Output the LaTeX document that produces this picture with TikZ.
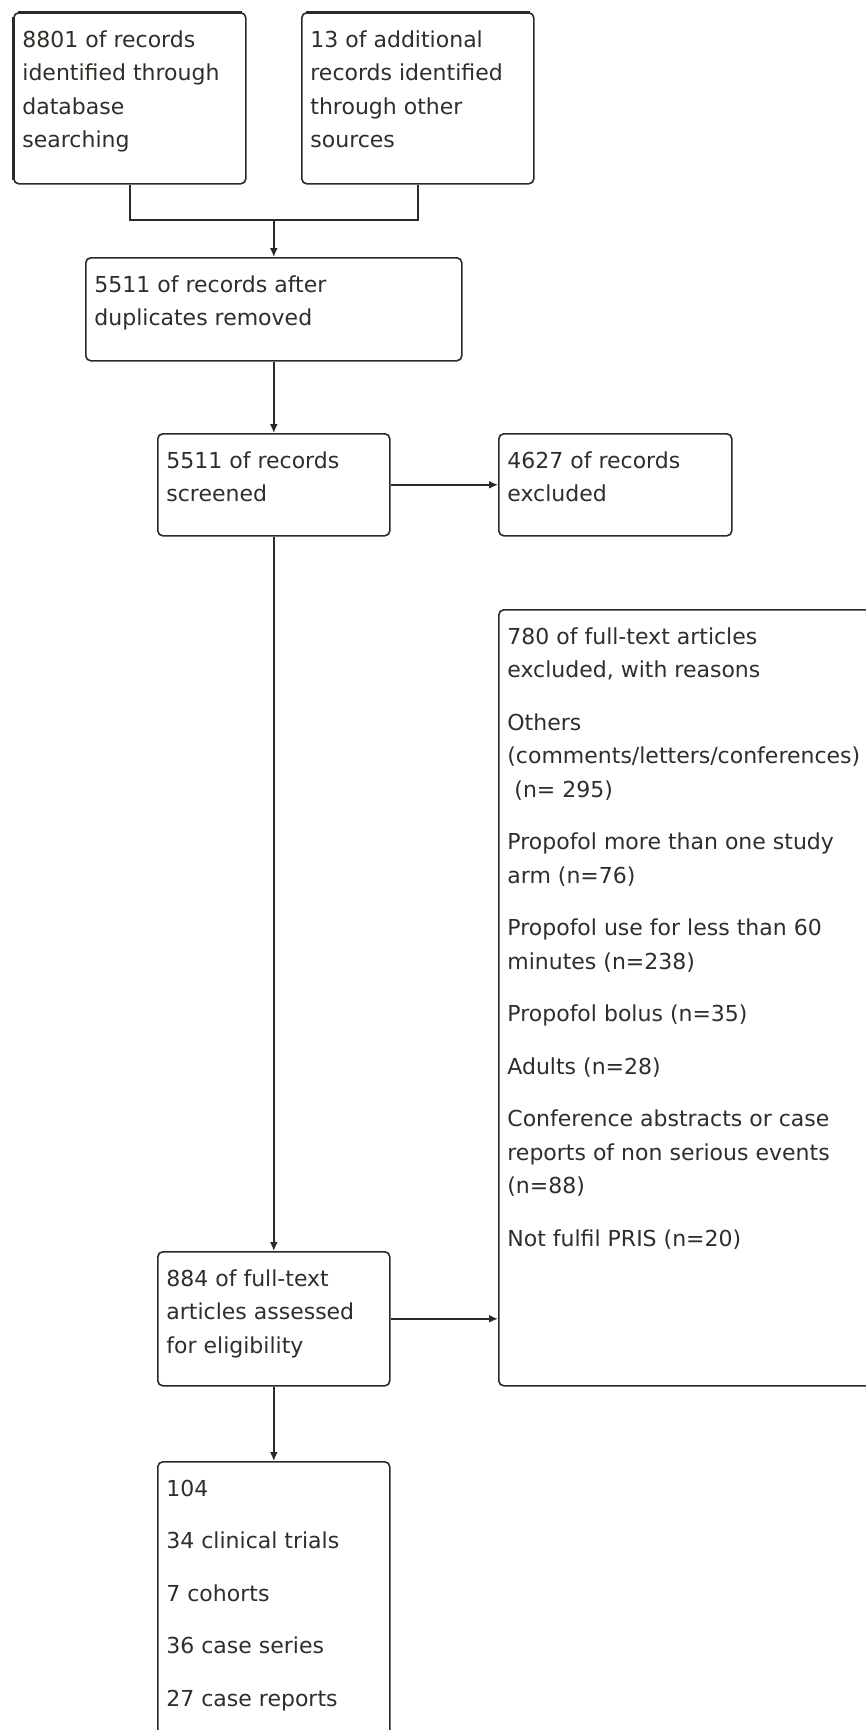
\documentclass[tikz,border=0pt]{standalone}
\usepackage{fontspec}
\setmainfont{DejaVu Sans}
\usetikzlibrary{arrows.meta}
\definecolor{ln}{RGB}{45,42,36}
\definecolor{tx}{RGB}{48,46,40}
\newcommand\firstl{\rule{0pt}{12pt}}
\begin{document}
\begin{tikzpicture}[x=0.5pt,y=-0.5pt,
  box/.style={draw=ln,line width=0.8pt,rounded corners=2.5pt,rectangle,inner sep=0pt,anchor=north west},
  txt/.style={anchor=north west,inner sep=0pt,align=left,text=tx,font=\fontsize{11}{16.75}\selectfont},
  conn/.style={draw=ln,line width=0.8pt},
  arr/.style={conn,-{Latex[length=4.5pt,width=4pt]}},
  heavy/.style={draw=ln,line width=1.5pt}]
\useasboundingbox (0,0) rectangle (866,1730);
\clip (0,0) rectangle (866,1730);
\fill[white] (0,0) rectangle (866,1730);
% boxes
\node[box,minimum width=116pt,minimum height=85.5pt] (b1) at (13,12) {};
\node[box,minimum width=116pt,minimum height=85.5pt] (b2) at (301,12) {};
\node[box,minimum width=188pt,minimum height=51.5pt] (b3) at (85,257) {};
\node[box,minimum width=116pt,minimum height=51pt] (b4) at (157,433) {};
\node[box,minimum width=116.5pt,minimum height=51pt] (b5) at (498,433) {};
\node[box,minimum width=201pt,minimum height=388pt] (b6) at (498,609) {};
\node[box,minimum width=116pt,minimum height=67pt] (b7) at (157,1251) {};
\node[box,minimum width=116pt,minimum height=149.5pt] (b8) at (157,1461) {};
% heavier edges on the two top boxes
\draw[heavy] ([xshift=2.5pt]b1.north west) -- ([xshift=-2.5pt]b1.north east);
\draw[heavy] ([yshift=-2.5pt]b1.north west) -- ([yshift=2.5pt]b1.south west);
\draw[heavy] ([xshift=2.5pt]b2.north west) -- ([xshift=-2.5pt]b2.north east);
% texts
\node[txt] (t1) at ([shift={(9,11)}]b1.north west) {\firstl 8801 of records\\identified through\\database\\searching};
\node[txt] (t2) at ([shift={(9,11)}]b2.north west) {\firstl 13 of additional\\records identified\\through other\\sources};
\node[txt] (t3) at ([shift={(9,11)}]b3.north west) {\firstl 5511 of records after\\duplicates removed};
\node[txt] (t4) at ([shift={(9,11)}]b4.north west) {\firstl 5511 of records\\screened};
\node[txt] (t5) at ([shift={(9,11)}]b5.north west) {\firstl 4627 of records\\excluded};
\node[txt] (t6) at ([shift={(9,11)}]b6.north west) {\firstl 780 of full-text articles\\excluded, with reasons\\[9.5pt]Others\\(comments/letters/conferences)\\\hspace*{0.32em}(n= 295)\\[9.5pt]Propofol more than one study\\arm (n=76)\\[9.5pt]Propofol use for less than 60\\minutes (n=238)\\[9.5pt]Propofol bolus (n=35)\\[9.5pt]Adults (n=28)\\[9.5pt]Conference abstracts or case\\reports of non serious events\\(n=88)\\[9.5pt]Not fulfil PRIS (n=20)};
\node[txt] (t7) at ([shift={(9,11)}]b7.north west) {\firstl 884 of full-text\\articles assessed\\for eligibility};
\node[txt] (t8) at ([shift={(9,11)}]b8.north west) {\firstl 104\\[9.5pt]34 clinical trials\\[9.5pt]7 cohorts\\[9.5pt]36 case series\\[9.5pt]27 case reports};
% connectors
\coordinate (m) at (b3.north |- 0,220);
\draw[conn] (b1.south) |- (m);
\draw[conn] (b2.south) |- (m);
\draw[arr] (m) -- (b3.north);
\draw[arr] (b3.south) -- (b4.north);
\draw[arr] (b4.east) -- (b5.west);
\draw[arr] (b4.south) -- (b7.north);
\draw[arr] (b7.east) -- (b7.east -| b6.west);
\draw[arr] (b7.south) -- (b8.north);
\end{tikzpicture}
\end{document}
